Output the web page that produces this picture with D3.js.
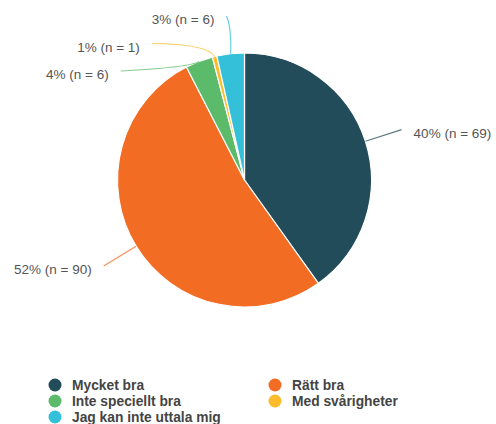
<!DOCTYPE html>
<meta charset="utf-8">
<head>
  <script src="https://d3js.org/d3.v7.min.js"></script>
  <style>
    body { margin: 0; background: #fff; }
    .etikett { font: 13.5px "Liberation Sans", Arial, sans-serif; fill: #555; }
    .legend text { font: bold 13.8px "Liberation Sans", Arial, sans-serif; fill: #444; }
  </style>
</head>
<body>
<div id="chart"></div>
<script>
"use strict"

// data
var kategorier = ["Mycket bra", "Rätt bra", "Inte speciellt bra", "Med svårigheter", "Jag kan inte uttala mig"];
var antal = [69, 90, 6, 1, 6];
var procent = [40, 52, 4, 1, 3];
var farger = ["#234c5b", "#f26c23", "#5cbb6a", "#fcbc2c", "#33c0d8"];

var bredd = 496, hojd = 424;
var cx = 244.5, cy = 180, r = 127;

var svg = d3.select("#chart").append("svg")
  .attr("width", bredd)
  .attr("height", hojd);

var dados = kategorier.map(function(k, i) {
  return { namn: k, n: antal[i], pct: procent[i], farg: farger[i] };
});

var pie = d3.pie().sort(null).value(function(d) { return d.n; });
var bitar = pie(dados);

var arc = d3.arc().innerRadius(0).outerRadius(r);

var g = svg.append("g").attr("transform", "translate(" + cx + "," + cy + ")");

g.selectAll("path.bit")
  .data(bitar)
  .enter()
  .append("path")
  .attr("class", "bit")
  .attr("d", arc)
  .style("fill", function(d) { return d.data.farg; })
  .style("stroke", "#fff")
  .style("stroke-width", 1.2);

// etiketter: slutpunkter på en cirkel r + 38, knuffas isär vertikalt
var R = r + 38, avstand = 27.5;
function polar(a, rr) { return [rr * Math.sin(a), -rr * Math.cos(a)]; }

bitar.forEach(function(d) {
  d.mitt = (d.startAngle + d.endAngle) / 2;
  d.slut = polar(d.mitt, R);
});

// vänster sida uppe: gå från sista biten bakåt och håll avstånd
var forra = null;
for (var i = bitar.length - 1; i >= 0; i--) {
  var d = bitar[i];
  if (d.mitt < Math.PI * 1.5) break;
  if (forra && d.slut[1] < forra.slut[1] + avstand) {
    var y = forra.slut[1] + avstand;
    var x = -Math.sqrt(R * R - y * y);
    d.slut = [x, y];
  }
  forra = d;
}

bitar.forEach(function(d) {
  var p0 = polar(d.mitt, r);
  var kontroll = polar(d.mitt, r + (d.data.n < 10 ? 22 : 20));
  if (d.data.n < 10 && Math.abs(d.slut[0] - kontroll[0]) > 30) {
    kontroll = polar(d.mitt, r + 10);
    kontroll = [kontroll[0] - 4, d.slut[1] - (d.slut[1] - kontroll[1]) * 0.2];
  } else if (d.data.n < 10) {
    kontroll = [p0[0] + 1, kontroll[1] - 4];
  }
  var p = d3.path();
  p.moveTo(p0[0], p0[1]);
  p.quadraticCurveTo(kontroll[0], kontroll[1], d.slut[0], d.slut[1]);
  g.append("path")
    .attr("d", p.toString())
    .style("fill", "none")
    .style("stroke", d.data.farg)
    .style("stroke-opacity", 0.75)
    .style("stroke-width", 1.2);

  var hoger = d.slut[0] > 0;
  g.append("text")
    .attr("class", "etikett")
    .attr("x", d.slut[0] + (hoger ? 12 : -12))
    .attr("y", d.slut[1])
    .attr("dy", "0.6em")
    .attr("text-anchor", hoger ? "start" : "end")
    .text(d.data.pct + "% (n = " + d.data.n + ")");
});

// legend
var legend = svg.append("g").attr("class", "legend");
var lx = d3.scaleOrdinal().domain([0, 1]).range([55, 275]);
var ly = d3.scaleLinear().domain([0, 1]).range([385, 401]);

var poster = legend.selectAll("g")
  .data(dados)
  .enter()
  .append("g")
  .attr("transform", function(d, i) {
    return "translate(" + lx(i % 2) + "," + ly(Math.floor(i / 2)) + ")";
  });

poster.append("circle")
  .attr("r", 6.5)
  .style("fill", function(d) { return d.farg; });

poster.append("text")
  .attr("x", 17)
  .attr("dy", "0.36em")
  .text(function(d) { return d.namn; });
</script>
</body>
</html>
